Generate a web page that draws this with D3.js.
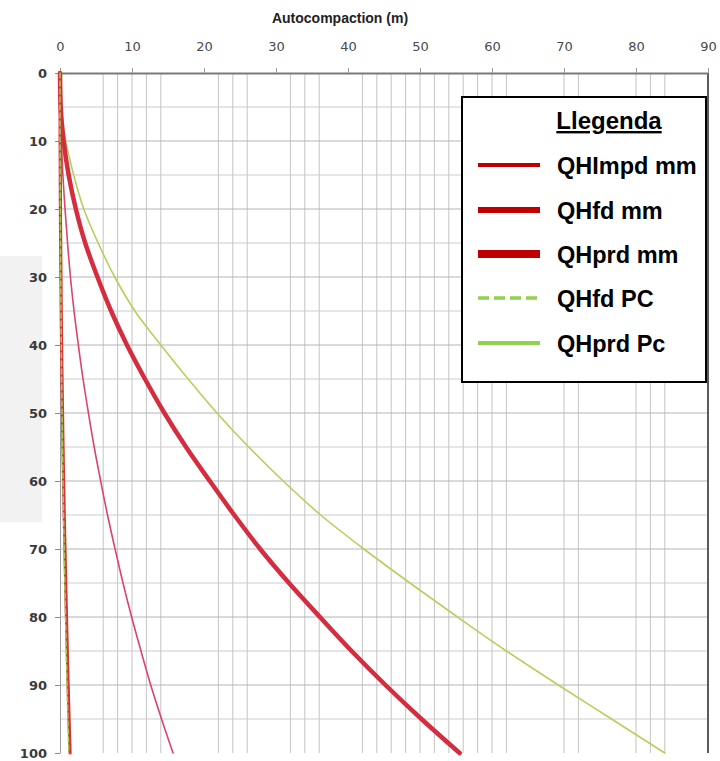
<!DOCTYPE html>
<html>
<head>
<meta charset="utf-8">
<script src="https://cdn.jsdelivr.net/npm/d3@7"></script>
<style>
  html, body { margin: 0; padding: 0; background: #ffffff; }
  svg { display: block; }
</style>
</head>
<body>
<svg id="chart" width="720" height="761"></svg>
<script>
// Depth (m) down the vertical axis, shared by every series
const depths = [0, 5, 10, 15, 20, 25, 30, 35, 40, 45, 50, 55, 60, 65, 70, 75, 80, 85, 90, 95, 100];

// Autocompaction (m) for each series at the depths above
const qhImpdMm = [0, 0.05, 0.2, 0.4, 0.7, 1.05, 1.45, 1.95, 2.55, 3.2, 3.95, 4.75, 5.65, 6.6, 7.65, 8.75, 9.95, 11.25, 12.6, 14.1, 15.7];
const qhFdMm   = [0, 0.01, 0.02, 0.04, 0.06, 0.09, 0.13, 0.17, 0.22, 0.28, 0.35, 0.42, 0.5, 0.59, 0.69, 0.79, 0.9, 1.01, 1.13, 1.26, 1.4];
const qhPrdMm  = [0, 0.1, 0.5, 1.2, 2.2, 3.5, 5.2, 7.1, 9.3, 11.8, 14.5, 17.5, 20.8, 24.2, 27.8, 31.8, 36.1, 40.5, 45.2, 50.2, 55.5];
const qhFdPc   = [0, 0.0, 0.01, 0.03, 0.05, 0.07, 0.1, 0.14, 0.18, 0.23, 0.29, 0.35, 0.42, 0.5, 0.58, 0.67, 0.77, 0.87, 0.98, 1.1, 1.23];
const qhPrdPc  = [0, 0.2, 0.8, 1.9, 3.3, 5.3, 7.6, 10.4, 14.0, 17.8, 21.8, 26.2, 31.0, 36.2, 42.2, 48.6, 55.2, 62.0, 69.2, 76.6, 84.0];

// Axis ticks and grid positions
const xTicks = [0, 10, 20, 30, 40, 50, 60, 70, 80, 90];
const yTicks = [0, 10, 20, 30, 40, 50, 60, 70, 80, 90, 100];
const gridX = [6, 8, 10, 12, 14, 22, 24, 26, 32, 34, 36, 42, 44, 46, 48, 50, 52, 54, 56, 58, 60, 62, 70, 72, 80, 82, 84];
const gridY = [5, 10, 15, 20, 25, 30, 35, 40, 45, 50, 55, 60, 65, 70, 75, 80, 85, 90, 95];

// Legend entries
const legendTitle = "Llegenda";
const legendLabels = ["QHImpd mm", "QHfd mm", "QHprd mm", "QHfd PC", "QHprd Pc"];
const axisTitle = "Autocompaction (m)";

const svg = d3.select("#chart");

const x = d3.scaleLinear().domain([0, 90]).range([60, 708]);
const y = d3.scaleLinear().domain([0, 100]).range([73, 753]);

// soft grey panel on the far left margin
svg.append("rect")
  .attr("x", 0).attr("y", 256).attr("width", 42).attr("height", 266)
  .attr("fill", "#f2f2f2");

// grid
const grid = svg.append("g");
grid.selectAll("line.gx").data(gridX).join("line")
  .attr("class", "gx")
  .attr("x1", d => x(d)).attr("x2", d => x(d))
  .attr("y1", y(0)).attr("y2", y(100))
  .attr("stroke", "#c4c4c4").attr("stroke-width", 1);
grid.selectAll("line.gy").data(gridY).join("line")
  .attr("class", "gy")
  .attr("x1", x(0)).attr("x2", x(90))
  .attr("y1", d => y(d)).attr("y2", d => y(d))
  .attr("stroke", d => d % 10 === 0 ? "#b4b4b4" : "#cdcdcd").attr("stroke-width", 1);

// right frame edge
svg.append("line")
  .attr("x1", x(90)).attr("x2", x(90)).attr("y1", y(0)).attr("y2", y(100))
  .attr("stroke", "#5a5a5a").attr("stroke-width", 2);

// top axis
const topAxis = svg.append("g")
  .attr("transform", `translate(0,${y(0)})`)
  .call(d3.axisTop(x).tickValues(xTicks).tickSize(5).tickPadding(17).tickSizeOuter(0));
topAxis.select(".domain").attr("stroke", "#7a7a7a").attr("stroke-width", 2);
topAxis.selectAll(".tick line").attr("stroke", "#9a9a9a");
topAxis.selectAll(".tick text")
  .attr("font-family", "DejaVu Sans, Verdana, sans-serif")
  .attr("font-size", 13).attr("fill", "#4a4a4a");

// left axis
const leftAxis = svg.append("g")
  .attr("transform", `translate(${x(0)},0)`)
  .call(d3.axisLeft(y).tickValues(yTicks).tickSize(5).tickPadding(8).tickSizeOuter(0));
leftAxis.select(".domain").attr("stroke", "#9a9a9a").attr("stroke-width", 1);
leftAxis.selectAll(".tick line").attr("stroke", "#8a8a8a");
leftAxis.selectAll(".tick text")
  .attr("font-family", "DejaVu Sans, Verdana, sans-serif")
  .attr("font-weight", "bold")
  .attr("font-size", 13).attr("fill", "#3a3a3a");

// axis title
svg.append("text")
  .attr("x", 340).attr("y", 23)
  .attr("text-anchor", "middle")
  .attr("font-family", "Liberation Sans, Arial, sans-serif")
  .attr("font-weight", "bold").attr("font-size", 14)
  .attr("fill", "#222")
  .text(axisTitle);

// curves
const lineGen = vals => d3.line()
  .x((d, i) => x(vals[i]))
  .y(d => y(d))
  .curve(d3.curveMonotoneY)(depths);

const curves = [
  { vals: qhPrdPc,  color: "#b7cf5c", width: 1.6, dash: null },
  { vals: qhImpdMm, color: "#d84668", width: 1.6, dash: null },
  { vals: qhPrdMm,  color: "#d42d40", width: 4.5, dash: null },
  { vals: qhFdMm,   color: "#d8323a", width: 3.2, dash: null },
  { vals: qhFdPc,   color: "#9ccf50", width: 1.5, dash: "5,3" }
];
svg.append("g").selectAll("path").data(curves).join("path")
  .attr("d", d => lineGen(d.vals))
  .attr("fill", "none")
  .attr("stroke", d => d.color)
  .attr("stroke-width", d => d.width)
  .attr("stroke-dasharray", d => d.dash)
  .attr("stroke-linecap", "round")
  .attr("stroke-linejoin", "round");

// legend
const lg = svg.append("g");
lg.append("rect")
  .attr("x", 462).attr("y", 97).attr("width", 244).attr("height", 285)
  .attr("fill", "#ffffff").attr("stroke", "#000").attr("stroke-width", 2);
lg.append("text")
  .attr("x", 609).attr("y", 129)
  .attr("text-anchor", "middle")
  .attr("font-family", "Liberation Sans, Arial, sans-serif")
  .attr("font-weight", "bold").attr("font-size", 24)
  .attr("text-decoration", "underline")
  .attr("fill", "#000")
  .text(legendTitle);

const legendStyles = [
  { color: "#c00000", width: 4, dash: null },
  { color: "#c00000", width: 6, dash: null },
  { color: "#c00000", width: 8, dash: null },
  { color: "#92d050", width: 3.5, dash: "11,5" },
  { color: "#92d050", width: 4, dash: null }
];
const rowY = [165, 210, 254, 298, 343];
legendLabels.forEach((lab, i) => {
  const s = legendStyles[i];
  lg.append("line")
    .attr("x1", 478).attr("x2", 540)
    .attr("y1", rowY[i]).attr("y2", rowY[i])
    .attr("stroke", s.color).attr("stroke-width", s.width)
    .attr("stroke-dasharray", s.dash);
  lg.append("text")
    .attr("x", 557).attr("y", rowY[i] + 8.5)
    .attr("font-family", "Liberation Sans, Arial, sans-serif")
    .attr("font-weight", "bold").attr("font-size", 23.5)
    .attr("fill", "#000")
    .text(lab);
});
</script>
</body>
</html>
